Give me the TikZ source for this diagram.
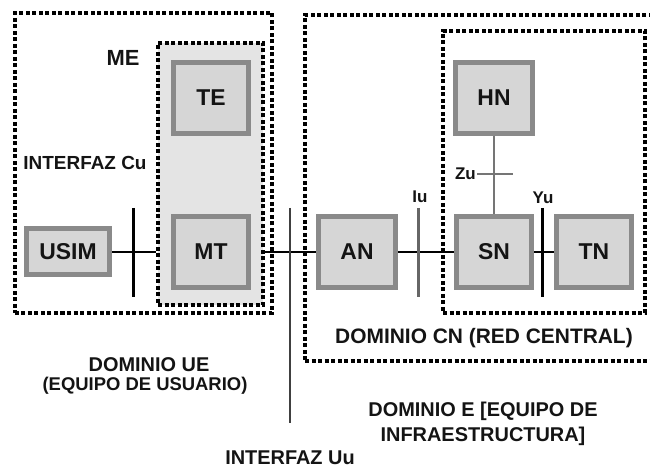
\documentclass[tikz,border=0pt]{standalone}
\usepackage{fontspec}
\setmainfont{Liberation Sans}
\usetikzlibrary{positioning}
\definecolor{boxline}{HTML}{8A8A8A}
\definecolor{boxfill}{HTML}{D6D6D6}
\definecolor{mefill}{HTML}{E4E4E4}
\definecolor{txt}{HTML}{141414}
\begin{document}
\begin{tikzpicture}[x=1bp,y=1bp,
                    box/.style={draw=boxline,line width=5bp,fill=boxfill,minimum width=75bp,minimum height=71bp,text=txt,font=\fontsize{23}{25}\selectfont\bfseries},
                    dom box/.style={draw=black,line width=4bp,dash pattern=on 4bp off 2.5bp},
                    lbl/.style={inner sep=0pt,text=txt,font=\fontsize{20}{22}\selectfont\bfseries},
                    small lbl/.style={inner sep=0pt,text=txt,font=\fontsize{17}{19}\selectfont\bfseries},
                    link/.style={draw=black,line width=2.5bp},
                    bar/.style={line width=3bp}]
\useasboundingbox (0,0) rectangle (650,468);
%%%%% dominios
\node[dom box,minimum width=257bp,minimum height=300bp] (ue) at (143.5,305) {};
\node[dom box,fill=mefill,minimum width=105bp,minimum height=262bp] (me) at (210.5,294) {};
\node[dom box,minimum width=355bp,minimum height=346bp] (e) at (482.5,280) {};
\node[dom box,minimum width=202bp,minimum height=282bp] (cn) at (544,296) {};
%%%%% nodos
\node[box] (te) at (211,370) {TE};
\node[box] (mt) at (211,216) {MT};
\node[box,minimum width=83bp,minimum height=46bp] (usim) at (68,216) {USIM};
\node[box,minimum width=77bp] (an) at (357,216) {AN};
\node[box] (sn) at (494,216) {SN};
\node[box] (tn) at (594,216) {TN};
\node[box,minimum width=77bp] (hn) at (494,370) {HN};
%%%%% interfaces
\coordinate (cu top) at (133,260);  \coordinate (cu bot) at (133,171);
\coordinate (uu top) at (290,260);  \coordinate (uu bot) at (290,45);
\coordinate (iu top) at (418,260);  \coordinate (iu bot) at (418,171);
\coordinate (yu top) at (542,260);  \coordinate (yu bot) at (542,171);
\coordinate (zu l) at (477,294);    \coordinate (zu r) at (513,294);
\path[link]
    (usim.east) edge (usim -| me.west)
    (mt -| me.east) edge (an.west)
    (an.east) edge (sn.west)
    (sn.east) edge (tn.west);
\draw[line width=2.5bp,draw=boxline!85!black] (hn.south) -- (sn.north);
\draw[bar,draw=black] (cu top) -- (cu bot);
\draw[line width=2bp,draw=black!75] (uu top) -- (uu bot);
\draw[bar,draw=black!60] (iu top) -- (iu bot);
\draw[bar,draw=black] (yu top) -- (yu bot);
\draw[line width=2.5bp,draw=boxline!85!black] (zu l) -- (zu r);
%%%%% textos
\node[lbl,font=\fontsize{22}{24}\selectfont\bfseries] (me lbl) at (123,410) {ME};
\node[lbl,font=\fontsize{19}{21}\selectfont\bfseries] (cu lbl) at (85,305) {INTERFAZ Cu};
\node[small lbl] (iu lbl) at (420,271) {Iu};
\node[small lbl,left=1bp of zu l] (zu lbl) {Zu};
\node[small lbl] (yu lbl) at (543,270) {Yu};
\node[lbl,font=\fontsize{21}{23}\selectfont\bfseries] (cn lbl) at (484,130) {DOMINIO CN (RED CENTRAL)};
\node[lbl] (ue lbl) at (149,103) {DOMINIO UE};
\node[lbl,font=\fontsize{18.5}{20}\selectfont\bfseries] (ue sub) at (145,82) {(EQUIPO DE USUARIO)};
\node[lbl,align=center,font=\fontsize{20}{25}\selectfont\bfseries] (e lbl) at (483,44) {DOMINIO E [EQUIPO DE\\INFRAESTRUCTURA]};
\node[lbl] (uu lbl) at (290,10) {INTERFAZ Uu};
\end{tikzpicture}
\end{document}
